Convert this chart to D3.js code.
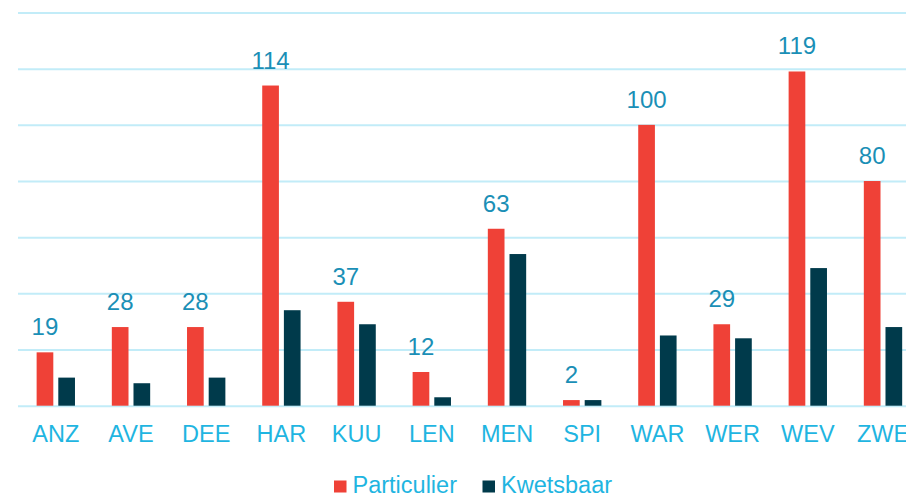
<!DOCTYPE html>
<html>
<head>
<meta charset="utf-8">
<script src="https://cdn.jsdelivr.net/npm/d3@7"></script>
<style>
  html, body { margin: 0; padding: 0; background: #fff; }
  svg { display: block; font-family: "Liberation Sans", Arial, sans-serif; }
  .grid line { stroke: #c2ecf8; stroke-width: 2; }
  .grid .domain { display: none; }
</style>
</head>
<body>
<div id="root"></div>
<script>
const categories = ["ANZ", "AVE", "DEE", "HAR", "KUU", "LEN", "MEN", "SPI", "WAR", "WER", "WEV", "ZWE"];
const particulier = [19, 28, 28, 114, 37, 12, 63, 2, 100, 29, 119, 80];
const kwetsbaar = [10, 8, 10, 34, 29, 3, 54, 2, 25, 24, 49, 28];
const seriesNames = ["Particulier", "Kwetsbaar"];
const seriesColors = ["#ef4137", "#003a4b"];
const gridTicks = [0, 20, 40, 60, 80, 100, 120, 140];

const width = 906;
const height = 496;

const svg = d3.select("#root")
  .append("svg")
    .attr("width", width)
    .attr("height", height);

const y = d3.scaleLinear()
  .domain([0, 140])
  .range([405.7, 12.5]);

const x0 = d3.scaleBand()
  .domain(categories)
  .range([18.2, 920.6])
  .paddingInner(0.49)
  .paddingOuter(0.245);

const x1 = d3.scaleBand()
  .domain(seriesNames)
  .range([0, x0.bandwidth()])
  .paddingInner(0.23);

// gridlines
svg.append("g")
  .attr("class", "grid")
  .attr("transform", "translate(18,0)")
  .call(d3.axisLeft(y)
    .tickValues(gridTicks)
    .tickSize(-(width - 18))
    .tickFormat(""));

const rows = categories.map((c, i) => ({ cat: c, vals: [particulier[i], kwetsbaar[i]] }));

const groups = svg.append("g")
  .selectAll("g")
  .data(rows)
  .enter()
  .append("g")
    .attr("transform", d => "translate(" + x0(d.cat) + ",0)");

groups.selectAll("rect")
  .data(d => d.vals.map((v, j) => ({ key: seriesNames[j], v: v, j: j })))
  .enter()
  .append("rect")
    .attr("x", d => x1(d.key))
    .attr("y", d => y(d.v))
    .attr("width", x1.bandwidth())
    .attr("height", d => y(0) - y(d.v))
    .attr("fill", d => seriesColors[d.j]);

// value labels on Particulier bars
groups.append("text")
  .attr("x", x1("Particulier") + x1.bandwidth() / 2)
  .attr("y", d => y(d.vals[0]) - 17)
  .attr("text-anchor", "middle")
  .attr("font-size", 24)
  .attr("fill", "#1a8fb6")
  .text(d => d.vals[0]);

// category axis
const xAxis = svg.append("g")
  .attr("transform", "translate(0,406)")
  .call(d3.axisBottom(x0).tickSize(0).tickPadding(0));
xAxis.select(".domain").remove();
xAxis.selectAll("text")
  .attr("y", 36)
  .attr("dy", 0)
  .attr("font-size", 23.5)
  .attr("font-family", "Liberation Sans, Arial, sans-serif")
  .attr("fill", "#1fb5e1");

// legend
const legendItems = [
  { name: seriesNames[0], color: seriesColors[0], x: 334 },
  { name: seriesNames[1], color: seriesColors[1], x: 482.5 }
];
const legend = svg.append("g")
  .selectAll("g")
  .data(legendItems)
  .enter()
  .append("g")
    .attr("transform", d => "translate(" + d.x + ",0)");
legend.append("rect")
  .attr("x", 0)
  .attr("y", 480.5)
  .attr("width", 12.5)
  .attr("height", 12)
  .attr("fill", d => d.color);
legend.append("text")
  .attr("x", 18.5)
  .attr("y", 493)
  .attr("font-size", 23.5)
  .attr("fill", "#1fb5e1")
  .text(d => d.name);
</script>
</body>
</html>
